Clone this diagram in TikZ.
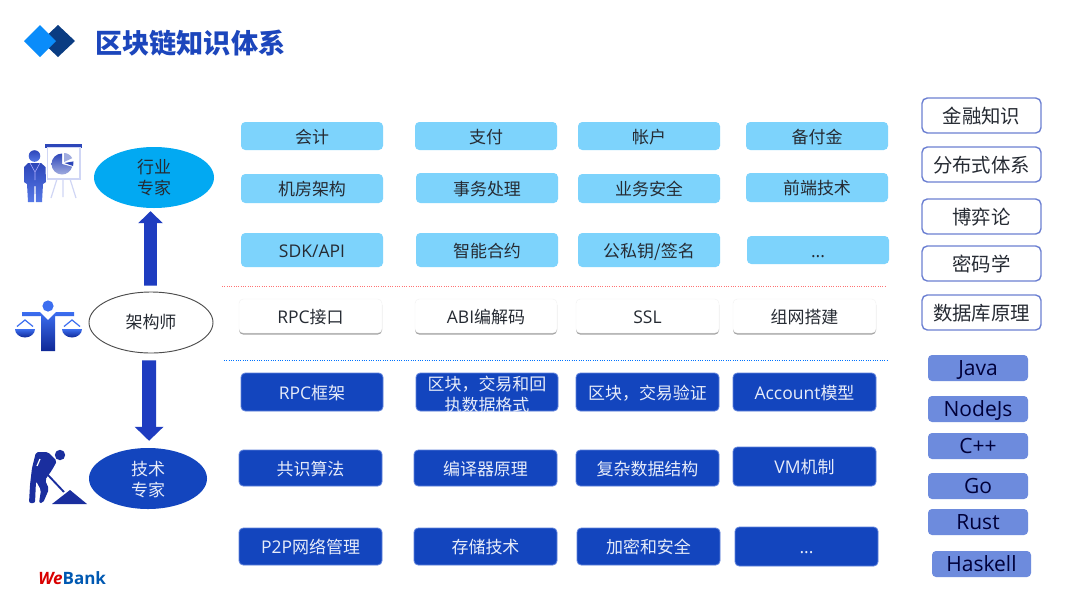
\documentclass[tikz,border=0pt]{standalone}
\usepackage{fontspec}
\usetikzlibrary{arrows.meta,shadows,calc,shapes.geometric}
\setmainfont{Open Sans}
\newfontfamily\zhf[Scale=0.97]{Noto Sans CJK SC}
\newcommand{\zh}[1]{{\zhf #1}}
\definecolor{lightbox}{HTML}{7DD3FC}
\definecolor{deepbox}{HTML}{1345BE}
\definecolor{deepedge}{HTML}{5F82DC}
\definecolor{inkt}{HTML}{262B33}
\definecolor{titleblue}{HTML}{1C46BC}
\definecolor{langfill}{HTML}{6D8BDD}
\definecolor{outl}{HTML}{6C80D2}
\definecolor{shaftblue}{HTML}{1E3CC0}
\definecolor{digger}{HTML}{1A2E9E}
\definecolor{skyell}{HTML}{02A9F2}
\definecolor{bright}{RGB}{60,110,240}
\definecolor{deeper}{RGB}{15,40,150}
\definecolor{persona}{RGB}{45,70,185}
\definecolor{personb}{RGB}{85,120,230}
\definecolor{boardline}{RGB}{208,214,245}
\newcommand{\szt}[1]{\fontsize{\fpeval{#1*0.75}pt}{\fpeval{#1*0.95}pt}\selectfont}
\tikzset{
  basebox/.style={rounded corners=3.2pt,inner sep=0pt,align=center,text=inkt,font=\szt{17.5},text height=12.2pt,text depth=1pt},
  lightb/.style={basebox,fill=lightbox},
  whiteb/.style={basebox,fill=white,draw=black!5,line width=.3pt,drop shadow={shadow xshift=0pt,shadow yshift=-1.2pt,opacity=.5,fill=black!70}},
  deepb/.style={basebox,fill=deepbox,draw=deepedge,line width=.6pt,text=white!90!deepbox},
  outb/.style={basebox,draw=outl,fill=white,line width=1.05pt,rounded corners=4pt,font=\szt{20},text height=13.4pt},
  langb/.style={basebox,fill=langfill,font=\szt{21},text=black!75!blue!90!black,rounded corners=3pt,text height=12.4pt},
  ell/.style={ellipse,inner sep=0pt,align=center,font=\szt{17.5}},
  divider/.style={densely dotted,line width=.75pt},
}
\newcommand{\bx}[7]{%
  \pgfmathsetmacro{\cxx}{(#3+#5)/2}\pgfmathsetmacro{\cyy}{(#4+#6)/2}%
  \pgfmathsetmacro{\wdd}{(#5-#3)*0.75}\pgfmathsetmacro{\htt}{(#6-#4)*0.75}%
  \node[#1,minimum width=\wdd pt,minimum height=\htt pt] (#2) at (\cxx,\cyy) {#7};}
\begin{document}
\begin{tikzpicture}[x=0.75pt,y=-0.75pt]
\useasboundingbox (0,0) rectangle (1080,607);
\fill[white] (0,0) rectangle (1080,607);
% logo
\fill[fill={rgb,255:red,10;green,60;blue,130}] (58,25) -- (75,41) -- (58,57) -- (41,41) -- cycle;
\fill[fill={rgb,255:red,10;green,140;blue,250}] (40,25) -- (56,41) -- (40,57) -- (24,41) -- cycle;
\node[anchor=west,inner sep=0pt,text=titleblue,font=\szt{28}] (title) at (95,43) {\zh{\bfseries 区块链知识体系}};
% dividers
\coordinate (rl) at (222,286); \coordinate (rr) at (887,286);
\coordinate (bl) at (224,360); \coordinate (br) at (889,360);
\draw[divider,draw=red!55] (rl) -- (rr);
\draw[divider,draw=blue!55!cyan] (bl) -- (br);
% light boxes
\bx{lightb}{a1}{241}{122}{383}{150}{\zh{会计}}
\bx{lightb}{a2}{415}{122}{557}{150}{\zh{支付}}
\bx{lightb}{a3}{578}{122}{720}{150}{\zh{帐户}}
\bx{lightb}{a4}{746}{122}{888}{150}{\zh{备付金}}
\bx{lightb}{b1}{241}{174}{383}{203}{\zh{机房架构}}
\bx{lightb}{b2}{416}{173}{558}{203}{\zh{事务处理}}
\bx{lightb}{b3}{578}{174}{720}{203}{\zh{业务安全}}
\bx{lightb}{b4}{746}{173}{888}{202}{\zh{前端技术}}
\bx{lightb}{c1}{241}{233}{383}{267}{SDK/API}
\bx{lightb}{c2}{416}{233}{558}{267}{\zh{智能合约}}
\bx{lightb}{c3}{578}{233}{720}{267}{\zh{公私钥/签名}}
\bx{lightb}{c4}{747}{236}{889}{264}{...}
% white boxes
\bx{whiteb}{d1}{239}{299}{382}{333}{RPC\zh{接口}}
\bx{whiteb}{d2}{415}{299}{557}{333}{ABI\zh{编解码}}
\bx{whiteb}{d3}{576}{299}{719}{333}{SSL}
\bx{whiteb}{d4}{733}{299}{876}{333}{\zh{组网搭建}}
% deep boxes
\bx{deepb}{e1}{241}{373}{383}{411}{RPC\zh{框架}}
\bx{deepb,text height=28.5pt,text depth=0pt}{e2}{416}{373}{558}{411}{\zh{区块，交易和回}\\[-1pt]\zh{执数据格式}}
\bx{deepb}{e3}{576}{373}{719}{411}{\zh{区块，交易验证}}
\bx{deepb}{e4}{733}{373}{876}{411}{Account\zh{模型}}
\bx{deepb}{f1}{239}{450}{382}{486}{\zh{共识算法}}
\bx{deepb}{f2}{414}{450}{557}{486}{\zh{编译器原理}}
\bx{deepb}{f3}{576}{450}{719}{486}{\zh{复杂数据结构}}
\bx{deepb}{f4}{733}{447}{876}{486}{VM\zh{机制}}
\bx{deepb}{g1}{239}{528}{382}{565}{P2P\zh{网络管理}}
\bx{deepb}{g2}{414}{528}{557}{565}{\zh{存储技术}}
\bx{deepb}{g3}{577}{528}{720}{565}{\zh{加密和安全}}
\bx{deepb}{g4}{735}{527}{878}{566}{...}
% right column
\bx{outb}{h1}{922}{98}{1041}{133}{\zh{金融知识}}
\bx{outb}{h2}{922}{147}{1041}{182}{\zh{分布式体系}}
\bx{outb}{h3}{922}{199}{1041}{234}{\zh{博弈论}}
\bx{outb}{h4}{922}{246}{1041}{281}{\zh{密码学}}
\bx{outb}{h5}{922}{295}{1041}{330}{\zh{数据库原理}}
\bx{langb}{j1}{928}{355}{1028}{381}{Java}
\bx{langb}{j2}{928}{396}{1028}{422}{NodeJs}
\bx{langb}{j3}{928}{433}{1028}{459}{C++}
\bx{langb}{j4}{928}{473}{1028}{499}{Go}
\bx{langb}{j5}{928}{509}{1028}{535}{Rust}
\bx{langb}{j6}{932}{551}{1031}{577}{Haskell}
% ellipses
\node[ell,fill=skyell,text=inkt,minimum width=90pt,minimum height=45.75pt,text height=24.75pt,text depth=0pt] (exp) at (154,177.5) {\zh{行业}\\[-1.5pt]\zh{专家}};
\node[ell,draw=black!70,fill=white,line width=.7pt,text=inkt,minimum width=93pt,minimum height=45.75pt] (arch) at (151,322.5) {\zh{架构师}};
\node[ell,fill=deepbox,text=white!90!deepbox,minimum width=88.5pt,minimum height=45.75pt,text height=26.25pt,text depth=0pt] (tech) at (148,478.5) {\zh{技术}\\[-1.5pt]\zh{专家}};
% block arrows
\draw[draw=shaftblue,line width=9.5pt,-{Triangle[length=9pt,width=18pt]}] ([xshift=-.4pt,yshift=4.5pt]arch.north) -- ([xshift=-2.6pt,yshift=-2.2pt]exp.south);
\draw[draw=shaftblue,line width=10.5pt,-{Triangle[length=10.5pt,width=21pt]}] ([xshift=-1.4pt,yshift=-5.2pt]arch.south) -- ([xshift=.8pt,yshift=5.2pt]tech.north);
% presenter icon
\fill[persona] (45,144) rectangle (82,147.5);
\draw[draw=boardline,line width=.8pt] (47.5,147.5) rectangle (80,179);
\draw[draw=boardline,line width=.9pt] (57,179) -- (51,198) (63,179) -- (63,197) (70,179) -- (76,198);
\shade[top color=persona,bottom color=persona!45!white] (62,164) -- (62,153.5) arc (-90:-345:10.5) -- cycle;
\fill[fill=persona!45!white] (64,162) -- (64,153) arc (-90:-25:9) -- cycle;
\fill[persona] (64.5,163) -- (73.5,161.4) arc (-10:20:9) -- cycle;
\shade[top color=persona,bottom color=personb] (34.5,156) circle (5.8);
\shade[top color=persona,bottom color=personb]
  (28,163) -- (41,163) -- (45.5,167) -- (46,182) -- (43,184) -- (42,202) -- (36,202) -- (35.5,186) -- (34.5,186) -- (34,202) -- (28,202) -- (27,184) -- (24,182) -- (24,167) -- cycle;
\draw[white!70!blue,line width=.4pt] (30,163) -- (35,172) -- (40,163) (35,172) -- (35,180);
% scales icon
\shade[top color=bright,bottom color=deeper]
  (22,312) -- (40,312) -- (48,320) -- (56,312) -- (74,312) -- (74,316) -- (55,316) -- (55,351) -- (41,351) -- (41,316) -- (22,316) -- cycle;
\fill[bright] (48,306) circle (5.6);
\shade[top color=bright,bottom color=deeper] (15,329) arc (180:0:10 and 8.5) -- cycle;
\shade[top color=bright,bottom color=deeper] (62,329) arc (180:0:10 and 8.5) -- cycle;
\draw[draw=bright,line width=.9pt] (17,326.5) -- (25,320) -- (33,326.5) (64,326.5) -- (72,320) -- (80,326.5);
% digger icon
\fill[digger] (60,455) circle (5.2);
\fill[digger,rounded corners=1.5pt] (36,452) -- (48,452) -- (57,461) -- (52,470) -- (45,480) -- (49,489) -- (43,503) -- (39,503) -- (41,490) -- (36,481) -- (35,503) -- (29,503) -- (30,485) -- (32,468) -- cycle;
\draw[white,line width=.9pt] (40,459) -- (37,466);
\draw[digger,line width=1.4pt] (47,474) -- (64,492);
\fill[digger] (52,504) -- (70,490) -- (87,504) -- cycle;
% WeBank
\node[anchor=west,inner sep=0pt,font=\bfseries\itshape\szt{17}] (bank) at (38,578) {\textcolor{red!85!black}{We}\textcolor{blue!50!cyan!70!black}{\upshape Bank}};
\end{tikzpicture}
\end{document}
